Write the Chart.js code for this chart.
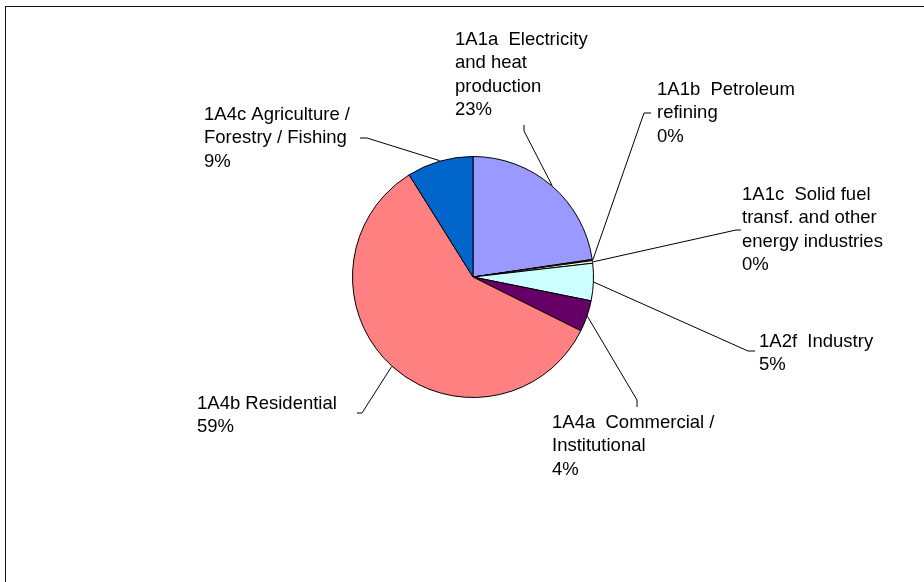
<!DOCTYPE html>
<html>
<head>
<meta charset="utf-8">
<title>Emissions by source category</title>
<script src="https://cdn.jsdelivr.net/npm/chart.js@4.4.1/dist/chart.umd.min.js"></script>
<style>
  html, body { margin: 0; padding: 0; background: #fff; }
  #wrap { position: relative; width: 924px; height: 582px; }
</style>
</head>
<body>
<div id="wrap"><canvas id="pie"></canvas></div>
<script>
// Source categories (line breaks mark where each label wraps)
const categories = [
  "1A1a  Electricity\nand heat\nproduction",
  "1A1b  Petroleum\nrefining",
  "1A1c  Solid fuel\ntransf. and other\nenergy industries",
  "1A2f  Industry",
  "1A4a  Commercial /\nInstitutional",
  "1A4b Residential",
  "1A4c Agriculture /\nForestry / Fishing"
];

// Share of total emissions, %
const shares = [22.7, 0.15, 0.35, 5.0, 4.2, 58.8, 8.9];

const sliceColors = ["#9999FF", "#993366", "#FFFFCC", "#CCFFFF", "#660066", "#FF8080", "#0066CC"];

// Label placement: left edge and first-line centre of the text block,
// the elbow where the leader line turns, and the end of the short tick.
const labelLayout = [
  { x: 455, y: 40,  elbow: [524, 131], tick: [524, 125] },
  { x: 657, y: 90,  elbow: [644, 113], tick: [651, 113] },
  { x: 742, y: 195, elbow: [736, 230], tick: [741, 230] },
  { x: 759, y: 342, elbow: [748, 351], tick: [755, 351] },
  { x: 552, y: 423, elbow: [637, 400], tick: [637, 407] },
  { x: 197, y: 404, elbow: [362, 413], tick: [357, 413] },
  { x: 204, y: 115, elbow: [367, 138], tick: [360, 138] }
];

const FONT = '18.5px "Liberation Sans", Arial, sans-serif';
const LINE_H = 23.3;

// Outer frame: top and left rules of the chart area border
const framePlugin = {
  id: 'frame',
  beforeDraw(chart) {
    const ctx = chart.ctx;
    ctx.save();
    ctx.fillStyle = '#fff';
    ctx.fillRect(0, 0, chart.width, chart.height);
    ctx.fillStyle = '#111';
    ctx.fillRect(5, 6, chart.width - 5, 1);
    ctx.fillRect(5, 6, 1, chart.height - 6);
    ctx.restore();
  }
};

// Category labels with leader lines from each slice's outer edge
const labelPlugin = {
  id: 'sliceLabels',
  afterDatasetsDraw(chart) {
    const ctx = chart.ctx;
    const meta = chart.getDatasetMeta(0);
    const data = chart.data.datasets[0].data;
    const total = data.reduce((a, b) => a + b, 0);
    ctx.save();
    ctx.strokeStyle = '#000';
    ctx.lineWidth = 1;
    ctx.fillStyle = '#000';
    ctx.font = FONT;
    ctx.textAlign = 'left';
    ctx.textBaseline = 'middle';
    meta.data.forEach((arc, i) => {
      const p = arc.getProps(['x', 'y', 'startAngle', 'endAngle', 'outerRadius'], true);
      const mid = (p.startAngle + p.endAngle) / 2;
      const r = p.outerRadius + 0.5;
      const sx = p.x + Math.cos(mid) * r;
      const sy = p.y + Math.sin(mid) * r;
      const L = labelLayout[i];
      ctx.beginPath();
      ctx.moveTo(sx, sy);
      ctx.lineTo(L.elbow[0], L.elbow[1]);
      ctx.lineTo(L.tick[0], L.tick[1]);
      ctx.stroke();
      const lines = chart.data.labels[i].split('\n');
      lines.push(Math.round(data[i] / total * 100) + '%');
      lines.forEach((t, k) => ctx.fillText(t, L.x, L.y + k * LINE_H));
    });
    ctx.restore();
  }
};

new Chart(document.getElementById('pie'), {
  type: 'pie',
  data: {
    labels: categories,
    datasets: [{
      data: shares,
      backgroundColor: sliceColors,
      borderColor: '#000',
      borderWidth: 1
    }]
  },
  options: {
    responsive: true,
    maintainAspectRatio: false,
    animation: false,
    layout: { padding: { left: 352, right: 330, top: 156, bottom: 184 } },
    plugins: {
      legend: { display: false },
      tooltip: { enabled: false }
    }
  },
  plugins: [framePlugin, labelPlugin]
});
</script>
</body>
</html>
